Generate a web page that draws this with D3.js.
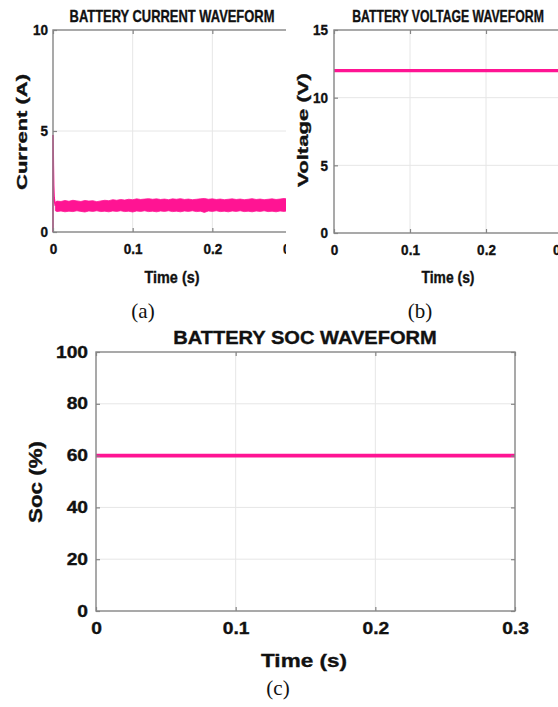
<!DOCTYPE html>
<html>
<head>
<meta charset="utf-8">
<script src="https://cdn.jsdelivr.net/npm/d3@7"></script>
<style>
body { margin: 0; background: #fff; }
svg text { font-family: "Liberation Sans", Arial, Helvetica, sans-serif; font-weight: bold; fill: #111; stroke: #111; stroke-width: 0.35px; }
svg text.cap { font-family: "Liberation Serif", "Times New Roman", serif; font-weight: normal; stroke: none; }
</style>
</head>
<body>
<svg id="fig" width="558" height="707"></svg>
<script>
// tick values
var timeTicks = [0, 0.1, 0.2, 0.3];
var currentTicks = [0, 5, 10];
var voltageTicks = [0, 5, 10, 15];
var socTicks = [0, 20, 40, 60, 80, 100];

// battery current: start-up spike, then a noisy band (upper / lower envelope)
var spikeTime = [0, 0, 0.0004, 0.0008, 0.0014, 0.0022, 0.003];
var spikeCurrent = [0, 4.8, 3.3, 2.3, 1.7, 1.45, 1.3];
var bandTime = [0.003, 0.005, 0.01, 0.015, 0.02, 0.025, 0.03, 0.035, 0.04, 0.045, 0.05,
                0.055, 0.06, 0.065, 0.07, 0.075, 0.08, 0.085, 0.09, 0.095, 0.1,
                0.105, 0.11, 0.115, 0.12, 0.125, 0.13, 0.135, 0.14, 0.145, 0.15,
                0.155, 0.16, 0.165, 0.17, 0.175, 0.18, 0.185, 0.19, 0.195, 0.2,
                0.205, 0.21, 0.215, 0.22, 0.225, 0.23, 0.235, 0.24, 0.245, 0.25,
                0.255, 0.26, 0.265, 0.27, 0.275, 0.28, 0.285, 0.29, 0.295, 0.3];
var bandUpper = [1.48, 1.53, 1.51, 1.56, 1.52, 1.57, 1.54, 1.51, 1.56, 1.53, 1.55,
                 1.50, 1.54, 1.57, 1.55, 1.60, 1.57, 1.61, 1.58, 1.62, 1.60,
                 1.64, 1.61, 1.63, 1.65, 1.62, 1.64, 1.61, 1.63, 1.60, 1.64,
                 1.62, 1.65, 1.61, 1.63, 1.60, 1.62, 1.64, 1.66, 1.62, 1.64,
                 1.61, 1.63, 1.60, 1.62, 1.64, 1.61, 1.63, 1.60, 1.62, 1.65,
                 1.61, 1.63, 1.60, 1.62, 1.64, 1.61, 1.63, 1.66, 1.62, 1.64];
var bandLower = [1.05, 1.01, 1.04, 1.00, 1.03, 1.01, 1.05, 1.02, 0.99, 1.04, 1.02,
                 1.05, 1.01, 1.03, 1.00, 1.04, 1.02, 1.05, 1.01, 1.03, 0.99,
                 1.04, 1.02, 1.05, 1.01, 1.03, 1.00, 1.04, 1.02, 1.05, 1.01,
                 1.03, 1.00, 1.04, 1.02, 1.05, 1.01, 1.03, 0.97, 1.04, 1.02,
                 1.05, 1.01, 1.03, 1.00, 1.04, 1.02, 1.05, 1.01, 1.03, 1.00,
                 1.04, 1.02, 1.05, 1.01, 1.03, 1.00, 1.04, 1.02, 1.05, 1.01];

// battery voltage and state of charge
var voltTime = [0, 0.3];
var voltValue = [12, 12];
var socTime = [0, 0.3];
var socValue = [60, 60];

var pink = "#ff1493";
var svg = d3.select("#fig");
var defs = svg.append("defs");

function stretch(sel, f)
{
    sel.each(function() {
        var n = this.getComputedTextLength();
        d3.select(this).attr("textLength", n * f).attr("lengthAdjust", "spacingAndGlyphs");
    });
}

// text squeezed / widened to a given length with a scale transform
function fitted(g, str, x, y, size, len, rot)
{
    var t = g.append("text").attr("text-anchor", "middle").attr("font-size", size).text(str);
    var n = t.node().getComputedTextLength();
    t.attr("transform", "translate(" + x + "," + y + ")" + (rot ? " rotate(-90)" : "") + " scale(" + (len / n) + ",1)");
    return t;
}

function draw_panel(p)
{
    var g = svg.append("g");
    if (p.clipRight)
    {
        defs.append("clipPath").attr("id", "clip_" + p.id)
            .append("rect").attr("x", 0).attr("y", 0).attr("width", p.clipRight).attr("height", 707);
        g.attr("clip-path", "url(#clip_" + p.id + ")");
    }
    var x = d3.scaleLinear().domain([0, 0.3]).range([p.left, p.right]);
    var y = d3.scaleLinear().domain([0, p.yTicks[p.yTicks.length - 1]]).range([p.bottom, p.top]);

    // grid
    g.selectAll(".vgrid").data(timeTicks.slice(1, -1)).enter().append("line")
        .attr("x1", function(d) { return x(d); }).attr("x2", function(d) { return x(d); })
        .attr("y1", p.top).attr("y2", p.bottom)
        .attr("stroke", "#e6e6e6").attr("stroke-width", 1);
    g.selectAll(".hgrid").data(p.yTicks.slice(1, -1)).enter().append("line")
        .attr("y1", function(d) { return y(d); }).attr("y2", function(d) { return y(d); })
        .attr("x1", p.left).attr("x2", p.right)
        .attr("stroke", "#e6e6e6").attr("stroke-width", 1);

    // data
    p.plot(g, x, y);

    // box
    g.append("rect").attr("x", p.left).attr("y", p.top)
        .attr("width", p.right - p.left).attr("height", p.bottom - p.top)
        .attr("fill", "none").attr("stroke", "#858585").attr("stroke-width", 1.4);

    var ts = -4;
    var ax = [
        [d3.axisLeft(y).tickValues(p.yTicks).tickPadding(p.yPad), "translate(" + p.left + ",0)", true],
        [d3.axisRight(y).tickValues(p.yTicks).tickFormat(""), "translate(" + p.right + ",0)", false],
        [d3.axisBottom(x).tickValues(timeTicks).tickPadding(p.xPad).tickFormat(d3.format("")), "translate(0," + p.bottom + ")", true],
        [d3.axisTop(x).tickValues(timeTicks).tickFormat(""), "translate(0," + p.top + ")", false]
    ];
    ax.forEach(function(a) {
        var ag = g.append("g").attr("transform", a[1])
            .call(a[0].tickSizeInner(ts).tickSizeOuter(0));
        ag.select(".domain").remove();
        ag.selectAll("line").attr("stroke", "#858585").attr("stroke-width", 1.2);
        ag.selectAll("text").attr("font-size", p.tickSize).attr("fill", "#111")
            .style("font-family", "\"Liberation Sans\", Arial, sans-serif").style("font-weight", "bold");
        if (a[2]) stretch(ag.selectAll("text"), p.tickStretch);
    });

    // title and axis labels
    fitted(g, p.title, p.titleX, p.titleY, p.titleSize, p.titleLen, false);
    fitted(g, "Time (s)", p.xlabX, p.xlabY, p.xlabSize, p.xlabLen, false);
    fitted(g, p.ylab, p.ylabX, p.ylabY, p.ylabSize, p.ylabLen, true);
    svg.append("text").attr("class", "cap").attr("x", p.capX).attr("y", p.capY)
        .attr("text-anchor", "middle").attr("font-size", 21).text(p.cap);
}

draw_panel({
    id: "a", left: 53, right: 292, top: 30, bottom: 232, clipRight: 286,
    yTicks: currentTicks, yPad: 5, xPad: 11, tickSize: 15, tickStretch: 0.9,
    title: "BATTERY CURRENT WAVEFORM", titleX: 172, titleY: 22, titleSize: 16.5, titleLen: 205,
    xlabX: 172, xlabY: 283, xlabSize: 16, xlabLen: 55,
    ylab: "Current (A)", ylabX: 27, ylabY: 132, ylabSize: 15, ylabLen: 116,
    cap: "(a)", capX: 143, capY: 318,
    plot: function(g, x, y) {
        var band = bandTime.map(function(t, i) { return [t, bandUpper[i], bandLower[i]]; });
        g.append("path").datum(band)
            .attr("d", d3.area().x(function(d) { return x(d[0]); })
                .y0(function(d) { return y(d[2]); }).y1(function(d) { return y(d[1]); }))
            .attr("fill", pink).attr("stroke", pink).attr("stroke-width", 0.8);
        var spike = spikeTime.map(function(t, i) { return [t, spikeCurrent[i]]; });
        g.append("path").datum(spike)
            .attr("d", d3.line().x(function(d) { return x(d[0]); }).y(function(d) { return y(d[1]); }))
            .attr("fill", "none").attr("stroke", pink).attr("stroke-width", 1.6);
    }
});

draw_panel({
    id: "b", left: 334, right: 562, top: 30, bottom: 233,
    yTicks: voltageTicks, yPad: 6, xPad: 11, tickSize: 15, tickStretch: 0.9,
    title: "BATTERY VOLTAGE WAVEFORM", titleX: 448, titleY: 22, titleSize: 16.5, titleLen: 192,
    xlabX: 448, xlabY: 283, xlabSize: 16, xlabLen: 53,
    ylab: "Voltage (V)", ylabX: 308, ylabY: 130, ylabSize: 15, ylabLen: 114,
    cap: "(b)", capX: 420, capY: 318,
    plot: function(g, x, y) {
        var v = voltTime.map(function(t, i) { return [t, voltValue[i]]; });
        g.append("path").datum(v)
            .attr("d", d3.line().x(function(d) { return x(d[0]); }).y(function(d) { return y(d[1]); }))
            .attr("fill", "none").attr("stroke", pink).attr("stroke-width", 3.4);
    }
});

draw_panel({
    id: "c", left: 96, right: 515, top: 352, bottom: 611,
    yTicks: socTicks, yPad: 8, xPad: 12, tickSize: 16, tickStretch: 1.2,
    title: "BATTERY SOC WAVEFORM", titleX: 305, titleY: 344, titleSize: 18.5, titleLen: 264,
    xlabX: 304, xlabY: 667, xlabSize: 18.5, xlabLen: 86,
    ylab: "Soc (%)", ylabX: 42, ylabY: 482, ylabSize: 18, ylabLen: 82,
    cap: "(c)", capX: 278, capY: 695,
    plot: function(g, x, y) {
        var s = socTime.map(function(t, i) { return [t, socValue[i]]; });
        g.append("path").datum(s)
            .attr("d", d3.line().x(function(d) { return x(d[0]); }).y(function(d) { return y(d[1]); }))
            .attr("fill", "none").attr("stroke", pink).attr("stroke-width", 3.6);
    }
});
</script>
</body>
</html>
